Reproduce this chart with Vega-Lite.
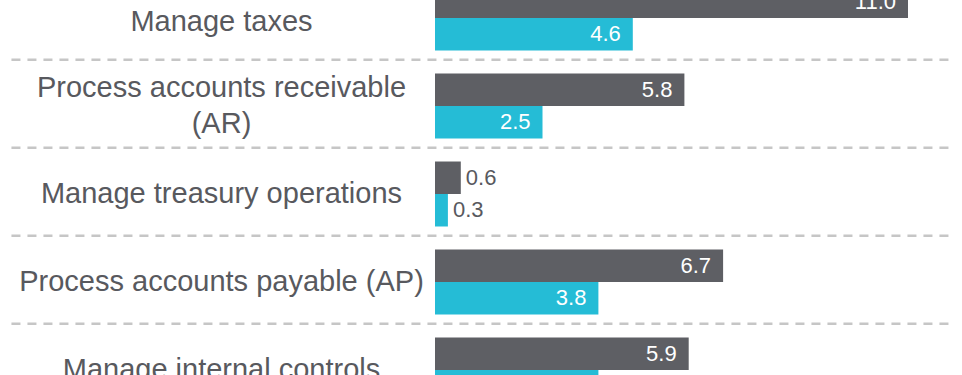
{
  "$schema": "https://vega.github.io/schema/vega-lite/v6.json",
  "width": 516,
  "height": 440,
  "autosize": {"type": "none"},
  "padding": {"left": 435, "top": -26, "right": 11, "bottom": 0},
  "background": "white",
  "config": {"view": {"stroke": null}, "font": "Liberation Sans"},
  "data": {"values": [
    {"process": "Manage taxes", "series": "All others", "value": 11.0},
    {"process": "Manage taxes", "series": "Top performers", "value": 4.6},
    {"process": "Process accounts receivable (AR)", "series": "All others", "value": 5.8},
    {"process": "Process accounts receivable (AR)", "series": "Top performers", "value": 2.5},
    {"process": "Manage treasury operations", "series": "All others", "value": 0.6},
    {"process": "Manage treasury operations", "series": "Top performers", "value": 0.3},
    {"process": "Process accounts payable (AP)", "series": "All others", "value": 6.7},
    {"process": "Process accounts payable (AP)", "series": "Top performers", "value": 3.8},
    {"process": "Manage internal controls", "series": "All others", "value": 5.9},
    {"process": "Manage internal controls", "series": "Top performers", "value": 3.8}
  ]},
  "encoding": {
    "y": {
      "field": "process", "type": "nominal", "sort": null,
      "scale": {"paddingInner": 0, "paddingOuter": 0},
      "axis": {
        "title": null, "ticks": false, "domain": false, "grid": false,
        "labelFontSize": 29, "labelColor": "#58595e", "labelAlign": "center",
        "labelBaseline": "middle", "labelPadding": 214, "labelLimit": 600,
        "labelLineHeight": 36,
        "labelOffset": {"condition": [
          {"test": "datum.label == 'Process accounts receivable (AR)'", "value": -18},
          {"test": "datum.label == 'Manage taxes'", "value": 4}
        ], "value": 0},
        "labelExpr": "datum.label == 'Process accounts receivable (AR)' ? ['Process accounts receivable', '(AR)'] : datum.label"
      }
    },
    "x": {"field": "value", "type": "quantitative", "scale": {"domain": [0, 12], "nice": false, "zero": true}, "axis": null}
  },
  "layer": [
    {
      "transform": [{"filter": "datum.series == 'All others'"}],
      "mark": {"type": "rule", "color": "#c6c6c6", "strokeWidth": 2.5, "strokeDash": [9, 7]},
      "encoding": {
        "y": {"field": "process", "type": "nominal", "sort": null, "bandPosition": -0.025},
        "x": {"datum": -9.85, "type": "quantitative", "axis": null},
        "x2": {"datum": 12}
      }
    },
    {
      "mark": {"type": "bar"},
      "encoding": {
        "yOffset": {"field": "series", "type": "nominal", "sort": ["All others", "Top performers"], "scale": {"paddingInner": 0, "paddingOuter": 0.354}},
        "color": {"field": "series", "type": "nominal", "sort": ["All others", "Top performers"], "scale": {"range": ["#5e5f64", "#25bcd6"]}, "legend": null}
      }
    },
    {
      "transform": [{"filter": "datum.value >= 1"}],
      "mark": {"type": "text", "align": "right", "baseline": "middle", "dx": -12, "fontSize": 22, "color": "white"},
      "encoding": {
        "yOffset": {"field": "series", "type": "nominal", "sort": ["All others", "Top performers"]},
        "text": {"field": "value", "type": "quantitative", "format": ".1f"}
      }
    },
    {
      "transform": [{"filter": "datum.value < 1"}],
      "mark": {"type": "text", "align": "left", "baseline": "middle", "dx": 5, "fontSize": 22, "color": "#58595e"},
      "encoding": {
        "yOffset": {"field": "series", "type": "nominal", "sort": ["All others", "Top performers"]},
        "text": {"field": "value", "type": "quantitative", "format": ".1f"}
      }
    }
  ]
}
